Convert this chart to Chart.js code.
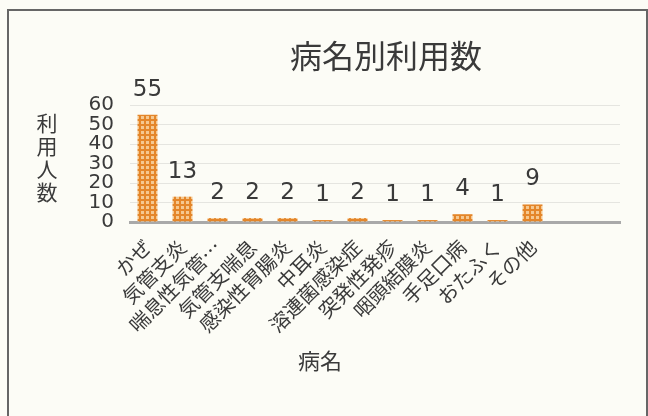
<!DOCTYPE html>
<html>
<head>
<meta charset="utf-8">
<script src="https://cdn.jsdelivr.net/npm/chart.js@4"></script>
<style>
  html, body { margin: 0; padding: 0; background: #fcfcf6; }
  #wrap { position: relative; width: 648px; height: 416px; overflow: hidden; }
  #frame { position: absolute; left: 7px; top: 9px; width: 641px; height: 430px; border: 2px solid #666; box-sizing: border-box; }
  canvas { position: absolute; left: 0; top: 0; }
</style>
</head>
<body>
<div id="wrap">
  <div id="frame"></div>
  <canvas id="byillness" width="648" height="416"></canvas>
</div>
<script>
  // データ
  const categories = ['かぜ', '気管支炎', '喘息性気管…', '気管支喘息', '感染性胃腸炎', '中耳炎',
    '溶連菌感染症', '突発性発疹', '咽頭結膜炎', '手足口病', 'おたふく', 'その他'];
  const users = [55, 13, 2, 2, 2, 1, 2, 1, 1, 4, 1, 9];
  const yTicks = [0, 10, 20, 30, 40, 50, 60];
  const emptySlots = ['', ''];   // 軸の右側の空き
  const chartTitle = '病名別利用数';
  const yTitle = '利用人数';
  const xTitle = '病名';

  const FONT = '"Noto Sans CJK JP", "Noto Sans", sans-serif';
  const NUMFONT = '"DejaVu Sans", ' + FONT;
  const INK = '#3a3a3a';
  Chart.defaults.font.family = FONT;
  Chart.defaults.color = INK;

  // 棒の模様 (オレンジの格子)
  const tile = document.createElement('canvas');
  tile.width = 5; tile.height = 5;
  const t = tile.getContext('2d');
  t.fillStyle = '#e4862a'; t.fillRect(0, 0, 5, 5);
  t.fillStyle = '#f5c890'; t.fillRect(1, 1, 3, 3);
  const canvas = document.getElementById('byillness');
  const pattern = canvas.getContext('2d').createPattern(tile, 'repeat');

  // 数値ラベルと見出し
  const labelsPlugin = {
    id: 'labelsPlugin',
    afterDatasetsDraw(chart) {
      const ctx = chart.ctx;
      ctx.save();
      ctx.fillStyle = INK;
      ctx.textAlign = 'center';

      ctx.font = '23px ' + NUMFONT;
      ctx.textBaseline = 'alphabetic';
      chart.getDatasetMeta(0).data.forEach((bar, i) => {
        if (users[i] == null) return;
        ctx.fillText(String(users[i]), bar.x, bar.y - 19);
      });

      ctx.textBaseline = 'middle';
      ctx.font = '32px ' + FONT;
      ctx.fillText(chartTitle, 386, 56);

      ctx.font = '21px ' + FONT;
      [...yTitle].forEach((ch, i) => ctx.fillText(ch, 47, 123 + i * 23));

      ctx.font = '22px ' + FONT;
      ctx.fillText(xTitle, 320, 361);
      ctx.restore();
    }
  };

  new Chart(canvas, {
    type: 'bar',
    data: {
      labels: [...categories, ...emptySlots],
      datasets: [{
        data: users,
        backgroundColor: pattern,
        borderWidth: 0,
        categoryPercentage: 1,
        barPercentage: 0.57
      }]
    },
    options: {
      responsive: false,
      animation: false,
      events: [],
      layout: { padding: { top: 105, right: 28, left: 0, bottom: 0 } },
      plugins: { legend: { display: false }, tooltip: { enabled: false }, title: { display: false } },
      scales: {
        x: {
          grid: { display: false, drawTicks: false },
          border: { display: true, color: '#a9a9a9', width: 3 },
          ticks: { autoSkip: false, minRotation: 45, maxRotation: 45, padding: 13, color: INK, font: { size: 20 } },
          afterFit: s => { s.height = 194; }
        },
        y: {
          min: yTicks[0],
          max: yTicks[yTicks.length - 1],
          afterBuildTicks: s => { s.ticks = yTicks.map(v => ({ value: v })); },
          grid: { color: 'rgba(110,110,110,0.16)', borderDash: [2, 3], drawTicks: false },
          border: { display: false },
          ticks: { autoSkip: false, padding: 16, color: INK, font: { family: NUMFONT, size: 20 } },
          afterFit: s => { s.width = 130; }
        }
      }
    },
    plugins: [labelsPlugin]
  });
</script>
</body>
</html>
